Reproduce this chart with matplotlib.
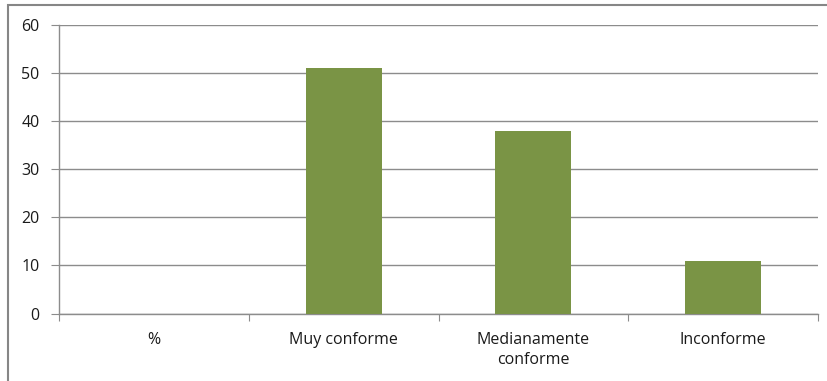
import matplotlib
matplotlib.use("Agg")
import matplotlib.pyplot as plt
from matplotlib.patches import Rectangle

categories = ["%", "Muy conforme", "Medianamente\nconforme", "Inconforme"]
values = [0, 51, 38, 11]
yticks = [0, 10, 20, 30, 40, 50, 60]

plt.rcParams['font.family'] = ['Open Sans', 'DejaVu Sans']

W, H = 827, 381
fig = plt.figure(figsize=(W / 100, H / 100), dpi=100)
ax = fig.add_axes([59 / W, 1 - 313.5 / H, (818 - 59) / W, (313.5 - 25) / H])

# outer border
fig.patches.append(Rectangle((8 / W, -0.05), 1.1, 1 - 5 / H + 0.05, transform=fig.transFigure,
                             fill=False, edgecolor="#868686", linewidth=1.5))

x = list(range(len(categories)))
bar_vals = [v if v > 0 else 0 for v in values]
ax.bar(x, bar_vals, width=0.4, color="#7A9445", zorder=3)

ax.set_xlim(-0.5, len(categories) - 0.5)
ax.set_ylim(0, 60)
ax.set_yticks(yticks)
ax.yaxis.grid(True, color="#8c8c8c", linewidth=1)
ax.set_axisbelow(True)

for s in ["top", "right"]:
    ax.spines[s].set_visible(False)
for s in ["left", "bottom"]:
    ax.spines[s].set_color("#8c8c8c")
    ax.spines[s].set_linewidth(1)

ax.set_xticks([i - 0.5 for i in range(len(categories) + 1)], minor=False)
ax.set_xticklabels([])
ax.set_xticks(x, minor=True)
ax.set_xticklabels(categories, minor=True, fontsize=11.5, color="#1a1a1a", linespacing=1.4)
ax.tick_params(axis="x", which="major", length=5, color="#8c8c8c")
ax.tick_params(axis="x", which="minor", length=0, pad=13)
ax.tick_params(axis="y", length=6, color="#8c8c8c", labelsize=11.5, labelcolor="#1a1a1a", pad=8)
for lab in ax.get_xticklabels(minor=True):
    lab.set_verticalalignment("top")

fig.savefig("out.png", dpi=100)
